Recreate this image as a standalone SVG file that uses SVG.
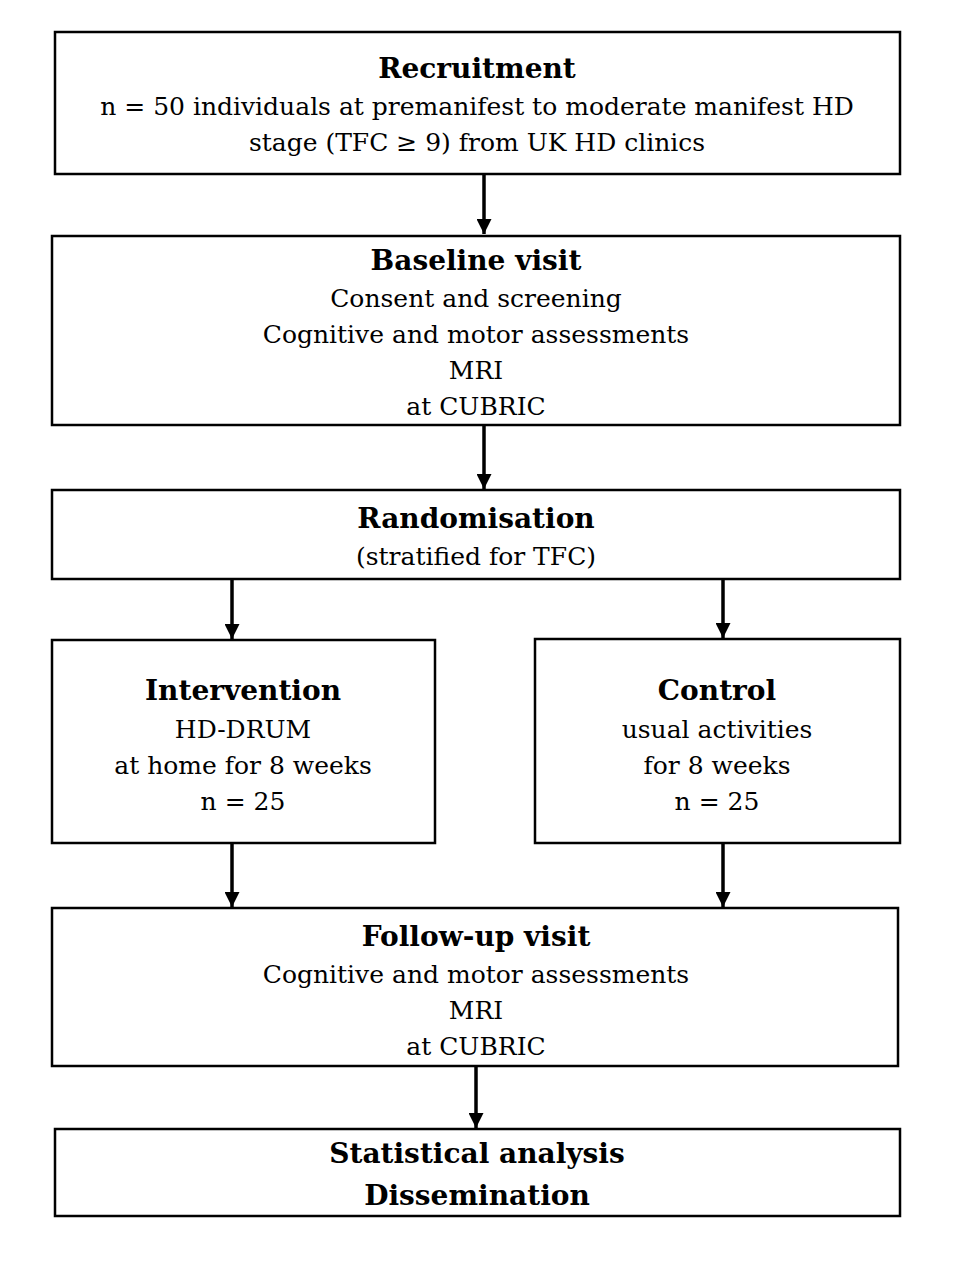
<svg xmlns="http://www.w3.org/2000/svg" width="960" height="1280" viewBox="0 0 960 1280">
<defs>
<marker id="ah" viewBox="0 0 10 10" refX="10" refY="5" markerWidth="15" markerHeight="15" markerUnits="userSpaceOnUse" orient="auto">
<path d="M0,0 L10,5 L0,10 z" fill="#000"/>
</marker>
<style>
rect{fill:#fff;stroke:#000;stroke-width:2.5}
text{font-family:"DejaVu Serif","Liberation Serif",serif;fill:#000;text-anchor:middle}
.t{font-size:28px;font-weight:bold}
.b{font-size:25px}
.c line{stroke:#000;stroke-width:3.5;marker-end:url(#ah)}
</style>
</defs>
<rect x="0" y="0" width="960" height="1280" style="stroke:none"/>
<g class="c" id="connectors">
<line x1="484" y1="175" x2="484" y2="234"/>
<line x1="484" y1="426" x2="484" y2="489"/>
<line x1="232" y1="580" x2="232" y2="639"/>
<line x1="723" y1="580" x2="723" y2="638"/>
<line x1="232" y1="844" x2="232" y2="907"/>
<line x1="723" y1="844" x2="723" y2="907"/>
<line x1="476" y1="1067" x2="476" y2="1128"/>
</g>
<g id="recruitment">
<rect x="55" y="32" width="845" height="142"/>
<text class="t" x="477" y="78">Recruitment</text>
<text class="b" x="477" y="115">n = 50 individuals at premanifest to moderate manifest HD</text>
<text class="b" x="477" y="151">stage (TFC ≥ 9) from UK HD clinics</text>
</g>
<g id="baseline">
<rect x="52" y="236" width="848" height="189"/>
<text class="t" x="476" y="270">Baseline visit</text>
<text class="b" x="476" y="307">Consent and screening</text>
<text class="b" x="476" y="343">Cognitive and motor assessments</text>
<text class="b" x="476" y="379">MRI</text>
<text class="b" x="476" y="415">at CUBRIC</text>
</g>
<g id="randomisation">
<rect x="52" y="490" width="848" height="89"/>
<text class="t" x="476" y="528">Randomisation</text>
<text class="b" x="476" y="565">(stratified for TFC)</text>
</g>
<g id="intervention">
<rect x="52" y="640" width="383" height="203"/>
<text class="t" x="243" y="700">Intervention</text>
<text class="b" x="243" y="738">HD-DRUM</text>
<text class="b" x="243" y="774">at home for 8 weeks</text>
<text class="b" x="243" y="810">n = 25</text>
</g>
<g id="control">
<rect x="535" y="639" width="365" height="204"/>
<text class="t" x="717" y="700">Control</text>
<text class="b" x="717" y="738">usual activities</text>
<text class="b" x="717" y="774">for 8 weeks</text>
<text class="b" x="717" y="810">n = 25</text>
</g>
<g id="followup">
<rect x="52" y="908" width="846" height="158"/>
<text class="t" x="476" y="946">Follow-up visit</text>
<text class="b" x="476" y="983">Cognitive and motor assessments</text>
<text class="b" x="476" y="1019">MRI</text>
<text class="b" x="476" y="1055">at CUBRIC</text>
</g>
<g id="analysis">
<rect x="55" y="1129" width="845" height="87"/>
<text class="t" x="477" y="1163">Statistical analysis</text>
<text class="t" x="477" y="1205">Dissemination</text>
</g>
</svg>
